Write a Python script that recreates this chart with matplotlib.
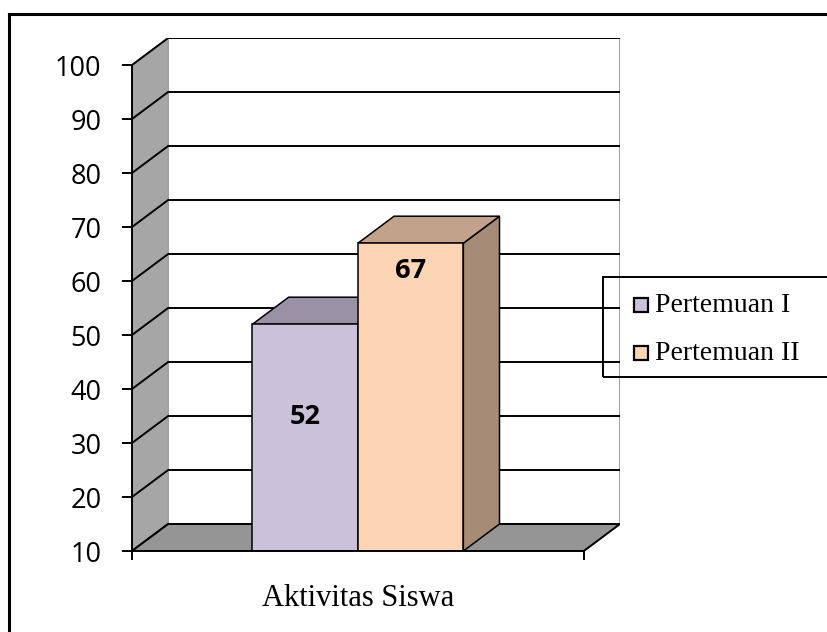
import matplotlib
matplotlib.use("Agg")
import matplotlib.pyplot as plt
from matplotlib.patches import Polygon, Rectangle
from matplotlib.lines import Line2D

# data
categories = ["Aktivitas Siswa"]
series = ["Pertemuan I", "Pertemuan II"]
values = [52, 67]
yticks = [10, 20, 30, 40, 50, 60, 70, 80, 90, 100]

front_colors = ["#CCC1DA", "#FCD5B5"]
top_colors = ["#9B91A6", "#C2A28B"]
side_colors = ["#9B91A6", "#A68C76"]

W, H = 827, 632
fig = plt.figure(figsize=(W / 100, H / 100), dpi=100)
ax = fig.add_axes([132 / W, 1 - 551 / H, (620 - 132) / W, (551 - 38) / H])

ymin, ymax = 10, 100
dx, dy = 0.08, 5  # depth offset of the 3d box
ax.set_xlim(0, 1 + dx)
ax.set_ylim(ymin, ymax + dy)
ax.patch.set_visible(False)

# back wall
ax.add_patch(Rectangle((dx, ymin + dy), 1, ymax - ymin, facecolor="white",
                       edgecolor="#A0A0A0", lw=1.4, zorder=0.5))
for v in yticks:
    ax.plot([dx, 1 + dx], [v + dy, v + dy], color="black", lw=1.4, zorder=0.6)

# side wall
ax.add_patch(Polygon([(0, ymin), (0, ymax), (dx, ymax + dy), (dx, ymin + dy)],
                     facecolor="#A6A6A6", edgecolor="#A0A0A0", lw=1, zorder=0.7))
for v in yticks:
    ax.plot([0, dx], [v, v + dy], color="black", lw=1.4, zorder=0.8)

# floor
ax.add_patch(Polygon([(0, ymin), (1, ymin), (1 + dx, ymin + dy), (dx, ymin + dy)],
                     facecolor="#959595", edgecolor="black", lw=1.4, zorder=0.9))

# bars
bw = 105 / 450
starts = [0.5 - bw, 0.5]
label_offsets = [17.2, 5.2]
for i, v in enumerate(values):
    x0 = starts[i]
    x1 = x0 + bw
    z = 1 + i
    ax.add_patch(Polygon([(x1, ymin), (x1 + dx, ymin + dy), (x1 + dx, v + dy), (x1, v)],
                         facecolor=side_colors[i], edgecolor="black", lw=1.1, zorder=z))
    ax.add_patch(Polygon([(x0, v), (x1, v), (x1 + dx, v + dy), (x0 + dx, v + dy)],
                         facecolor=top_colors[i], edgecolor="black", lw=1.1, zorder=z))
    ax.add_patch(Rectangle((x0, ymin), bw, v - ymin, facecolor=front_colors[i],
                           edgecolor="black", lw=1.1, zorder=z + 0.1))
    ax.text(x0 + bw / 2, v - label_offsets[i], str(v), ha="center", va="center",
            fontsize=19.5, fontweight="bold", family="Open Sans", zorder=5)

# axes
for s in ["top", "right"]:
    ax.spines[s].set_visible(False)
ax.spines["left"].set_bounds(ymin, ymax)
ax.spines["bottom"].set_bounds(0, 1)
for s in ["left", "bottom"]:
    ax.spines[s].set_linewidth(1.4)
    ax.spines[s].set_zorder(6)
ax.set_yticks(yticks)
ax.set_xticks([0, 1])
ax.set_xticklabels(["", ""])
ax.tick_params(axis="y", direction="out", length=7, width=1.4, pad=15)
ax.tick_params(axis="x", direction="out", length=6.5, width=1.4)
for lab in ax.get_yticklabels():
    lab.set_fontfamily("Open Sans")
    lab.set_fontsize(19.5)

ax.text(0.5, -0.092, categories[0], transform=ax.get_xaxis_transform(),
        ha="center", va="center", fontsize=22, family="Liberation Serif")

# legend (no fill, runs past the right edge)
fig.add_artist(Rectangle((603 / W, 1 - 377 / H), (840 - 603) / W, 100 / H,
                         transform=fig.transFigure, facecolor="none",
                         edgecolor="black", lw=1.4))
row_y = [305, 353]
for i, name in enumerate(series):
    fig.add_artist(Rectangle((634 / W, 1 - (row_y[i] + 7) / H), 14 / W, 14 / H,
                             transform=fig.transFigure, facecolor=front_colors[i],
                             edgecolor="black", lw=1.6))
    fig.text(655 / W, 1 - row_y[i] / H, name, ha="left", va="center",
             fontsize=20, family="Liberation Serif")

# outer frame
fig.add_artist(Line2D([9 / W, 9 / W], [0, 1 - 14 / H], color="black", lw=2.2,
                      transform=fig.transFigure))
fig.add_artist(Line2D([9 / W, 1], [1 - 14 / H, 1 - 14 / H], color="black", lw=2.2,
                      transform=fig.transFigure))

fig.savefig("out.png", dpi=100)
